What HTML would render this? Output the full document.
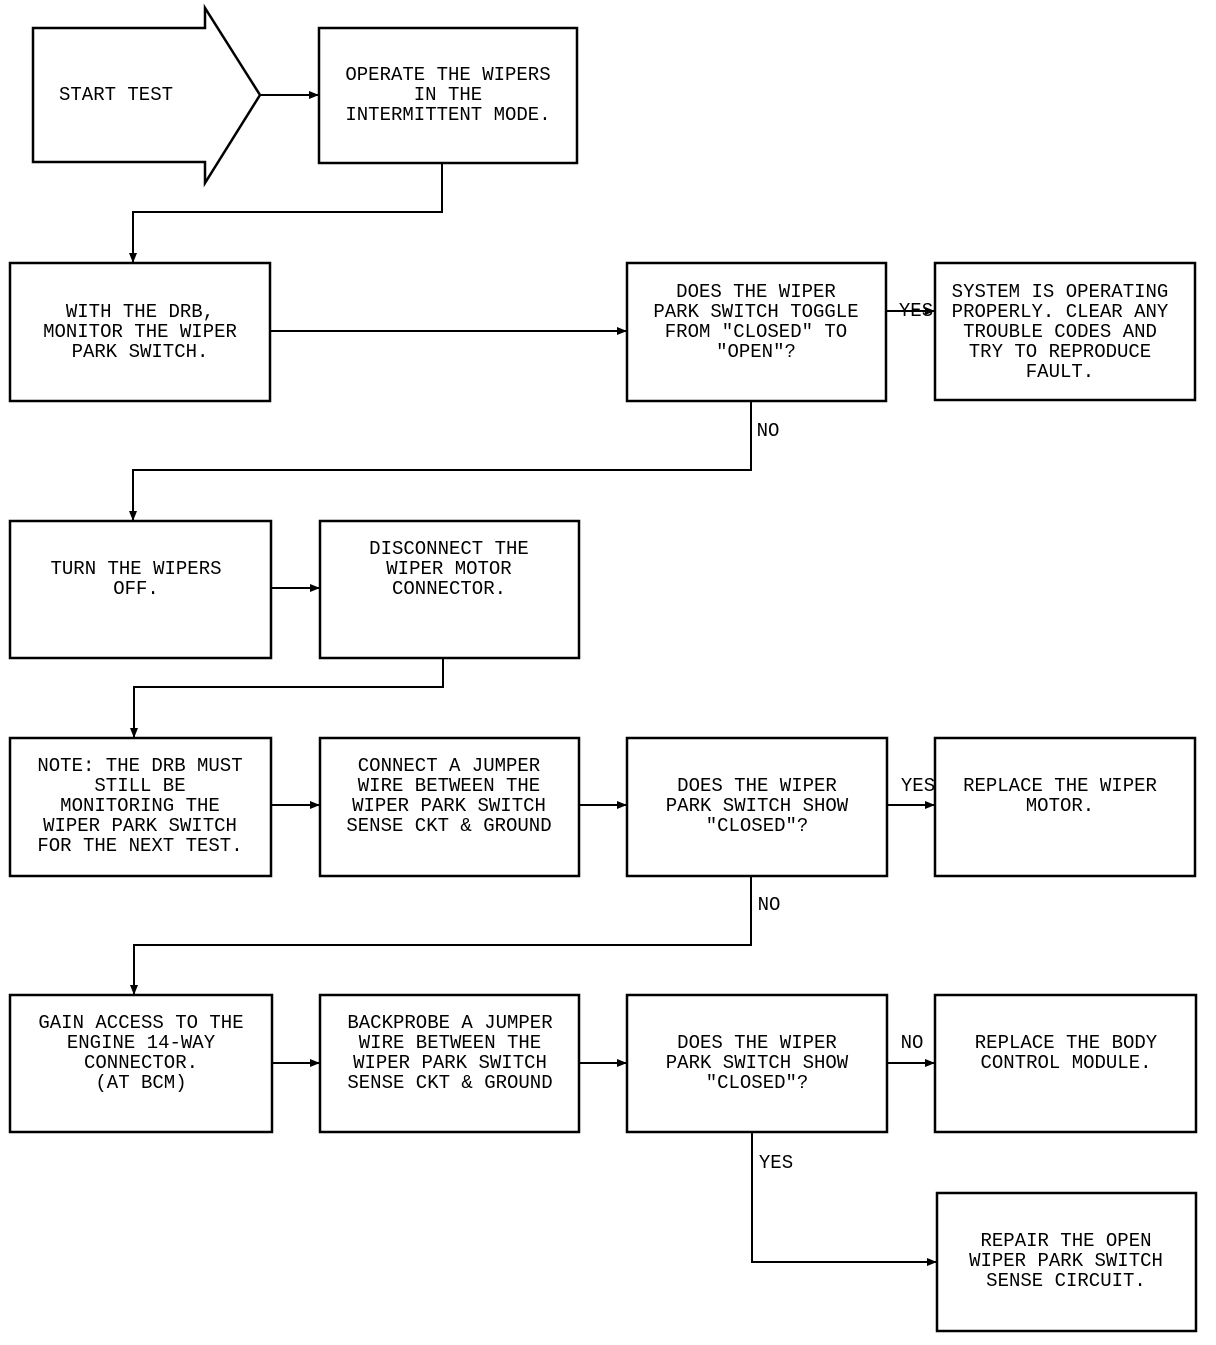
<!DOCTYPE html>
<html><head><meta charset="utf-8"><style>
html,body{margin:0;padding:0;background:#fff}
svg text{font-family:"Liberation Mono",monospace;font-size:19px;fill:#000;text-anchor:middle;dominant-baseline:middle}
</style></head><body>
<svg width="1216" height="1340" viewBox="0 0 1216 1340" xmlns="http://www.w3.org/2000/svg">
<defs><marker id="a" markerWidth="10" markerHeight="8" refX="10" refY="4" orient="auto" markerUnits="userSpaceOnUse"><path d="M0,0 L10,4 L0,8 z" fill="#000"/></marker></defs>
<g fill="none" stroke="#000" stroke-width="2.5">
<polygon points="33,28 205,28 205,8 260,95 205,183 205,162 33,162"/>
<rect x="319" y="28" width="258" height="135"/>
<rect x="10" y="263" width="260" height="138"/>
<rect x="627" y="263" width="259" height="138"/>
<rect x="935" y="263" width="260" height="137"/>
<rect x="10" y="521" width="261" height="137"/>
<rect x="320" y="521" width="259" height="137"/>
<rect x="10" y="738" width="261" height="138"/>
<rect x="320" y="738" width="259" height="138"/>
<rect x="627" y="738" width="260" height="138"/>
<rect x="935" y="738" width="260" height="138"/>
<rect x="10" y="995" width="262" height="137"/>
<rect x="320" y="995" width="259" height="137"/>
<rect x="627" y="995" width="260" height="137"/>
<rect x="935" y="995" width="261" height="137"/>
<rect x="937" y="1193" width="259" height="138"/>
</g>
<g fill="none" stroke="#000" stroke-width="2" marker-end="url(#a)">
<path d="M260,95 H319"/>
<path d="M442,163 V212 H133 V263"/>
<path d="M270,331 H627"/>
<path d="M886,311 H935"/>
<path d="M751,401 V470 H133 V521"/>
<path d="M271,588 H320"/>
<path d="M443,658 V687 H134 V738"/>
<path d="M271,805 H320"/>
<path d="M579,805 H627"/>
<path d="M887,805 H935"/>
<path d="M751,876 V945 H134 V995"/>
<path d="M272,1063 H320"/>
<path d="M579,1063 H627"/>
<path d="M887,1063 H935"/>
<path d="M752,1132 V1262 H937"/>
</g>
<text x="116" y="95">START TEST</text>
<text x="448" y="75">OPERATE THE WIPERS</text><text x="448" y="95">IN THE</text><text x="448" y="115">INTERMITTENT MODE.</text>
<text x="140" y="312">WITH THE DRB,</text><text x="140" y="332">MONITOR THE WIPER</text><text x="140" y="352">PARK SWITCH.</text>
<text x="756" y="292">DOES THE WIPER</text><text x="756" y="312">PARK SWITCH TOGGLE</text><text x="756" y="332">FROM "CLOSED" TO</text><text x="756" y="352">"OPEN"?</text>
<text x="1060" y="292">SYSTEM IS OPERATING</text><text x="1060" y="312">PROPERLY. CLEAR ANY</text><text x="1060" y="332">TROUBLE CODES AND</text><text x="1060" y="352">TRY TO REPRODUCE</text><text x="1060" y="372">FAULT.</text>
<text x="916" y="311">YES</text>
<text x="768" y="431">NO</text>
<text x="136" y="569">TURN THE WIPERS</text><text x="136" y="589">OFF.</text>
<text x="449" y="549">DISCONNECT THE</text><text x="449" y="569">WIPER MOTOR</text><text x="449" y="589">CONNECTOR.</text>
<text x="140" y="766">NOTE: THE DRB MUST</text><text x="140" y="786">STILL BE</text><text x="140" y="806">MONITORING THE</text><text x="140" y="826">WIPER PARK SWITCH</text><text x="140" y="846">FOR THE NEXT TEST.</text>
<text x="449" y="766">CONNECT A JUMPER</text><text x="449" y="786">WIRE BETWEEN THE</text><text x="449" y="806">WIPER PARK SWITCH</text><text x="449" y="826">SENSE CKT &amp; GROUND</text>
<text x="757" y="786">DOES THE WIPER</text><text x="757" y="806">PARK SWITCH SHOW</text><text x="757" y="826">"CLOSED"?</text>
<text x="1060" y="786">REPLACE THE WIPER</text><text x="1060" y="806">MOTOR.</text>
<text x="918" y="786">YES</text>
<text x="769" y="905">NO</text>
<text x="141" y="1023">GAIN ACCESS TO THE</text><text x="141" y="1043">ENGINE 14-WAY</text><text x="141" y="1063">CONNECTOR.</text><text x="141" y="1083">(AT BCM)</text>
<text x="450" y="1023">BACKPROBE A JUMPER</text><text x="450" y="1043">WIRE BETWEEN THE</text><text x="450" y="1063">WIPER PARK SWITCH</text><text x="450" y="1083">SENSE CKT &amp; GROUND</text>
<text x="757" y="1043">DOES THE WIPER</text><text x="757" y="1063">PARK SWITCH SHOW</text><text x="757" y="1083">"CLOSED"?</text>
<text x="1066" y="1043">REPLACE THE BODY</text><text x="1066" y="1063">CONTROL MODULE.</text>
<text x="912" y="1043">NO</text>
<text x="776" y="1163">YES</text>
<text x="1066" y="1241">REPAIR THE OPEN</text><text x="1066" y="1261">WIPER PARK SWITCH</text><text x="1066" y="1281">SENSE CIRCUIT.</text>
</svg>
</body></html>
